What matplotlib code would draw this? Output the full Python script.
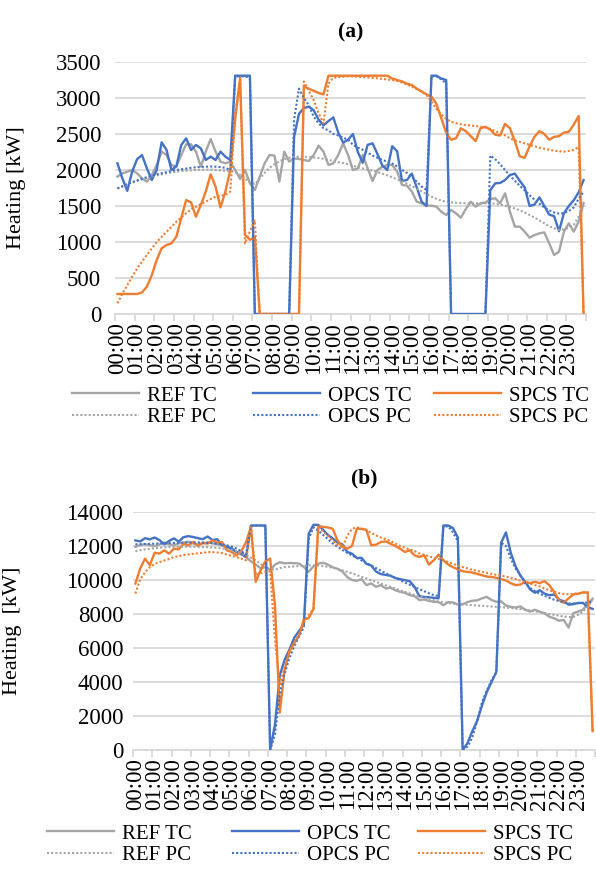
import numpy as np
import matplotlib
matplotlib.use("Agg")
import matplotlib.pyplot as plt

plt.rcParams['font.family'] = ['Liberation Serif', 'DejaVu Serif']

hours = [f"{h:02d}:00" for h in range(24)]

# ---------------- chart (a) : heating [kW], 15-min steps ----------------
a_ref_tc = [1908, 1954, 1977, 2000, 1954, 1884, 1838, 1930,
            2070, 2255, 2208, 2070, 2046, 2208, 2357, 2357,
            2255, 2046, 2255, 2430, 2255, 2116, 2093, 2116,
            2000, 1875, 2000, 1815, 1722, 1908, 2093, 2208,
            2200, 1840, 2255, 2116, 2162, 2153, 2139, 2125,
            2208, 2338, 2255, 2070, 2093, 2208, 2370, 2208,
            2000, 2023, 2208, 2023, 1847, 2000, 2046, 2070,
            2070, 1977, 1792, 1783, 1700, 1560, 1537, 1505,
            1505, 1491, 1421, 1375, 1445, 1398, 1338, 1458,
            1560, 1491, 1537, 1546, 1597, 1607, 1537, 1676,
            1421, 1213, 1213, 1144, 1060, 1097, 1120, 1134,
            982, 820, 866, 1144, 1259, 1144, 1283, 1537]
a_ref_pc = [1740, 1770, 1800, 1830, 1850, 1870, 1890, 1910,
            1925, 1940, 1955, 1965, 1975, 1985, 1990, 1995,
            2000, 2005, 2005, 2005, 2000, 1995, 1990, 1985,
            1970, 1930, 1880, 1830, 1800, 1880, 1960, 2030,
            2080, 2120, 2150, 2170, 2180, 2185, 2185, 2180,
            2175, 2165, 2155, 2140, 2125, 2110, 2095, 2080,
            2060, 2040, 2020, 2005, 1990, 1970, 1950, 1925,
            1900, 1870, 1840, 1810, 1775, 1740, 1700, 1665,
            1630, 1600, 1575, 1560, 1550, 1545, 1540, 1538,
            1537, 1537, 1537, 1537, 1535, 1530, 1520, 1505,
            1490, 1465, 1440, 1410, 1375, 1340, 1300, 1260,
            1220, 1190, 1170, 1175, 1200, 1240, 1350, 1560]
a_opcs_tc = [2093, 1884, 1710, 1977, 2150, 2208, 2023, 1861,
             2000, 2384, 2280, 2000, 2050, 2347, 2440, 2278,
             2347, 2300, 2139, 2185, 2139, 2255, 2185, 2139,
             3310, 3310, 3310, 3310, 0, 0, 0, 0,
             0, 0, 0, 0, 2460, 2780, 2860, 2880,
             2830, 2700, 2620, 2680, 2730, 2520, 2380, 2420,
             2500, 2250, 2100, 2350, 2370, 2220, 2060, 2000,
             2330, 2260, 1850, 1860, 1950, 1760, 1560, 1500,
             3310, 3310, 3270, 3250, 0, 0, 0, 0,
             0, 0, 0, 0, 1720, 1815, 1820, 1860,
             1930, 1950, 1850, 1760, 1500, 1520, 1620, 1500,
             1380, 1360, 1150, 1400, 1500, 1580, 1690, 1860]
a_opcs_pc = [1745, 1775, 1805, 1830, 1855, 1880, 1900, 1920,
             1940, 1955, 1970, 1985, 2000, 2010, 2020, 2030,
             2038, 2043, 2046, 2048, 2046, 2040, 2030, 2000,
             3300, 3300, 3300, 3280, 0, 0, 0, 0,
             0, 0, 0, 0, 2700, 3130, 3000, 2900,
             2740, 2650, 2580, 2550, 2500, 2480, 2450, 2420,
             2350, 2310, 2280, 2240, 2200, 2170, 2140, 2116,
             2090, 2050, 2000, 1960, 1900, 1840, 1770, 1722,
             3300, 3300, 3260, 3200, 0, 0, 0, 0,
             0, 0, 0, 0, 2200, 2150, 2080, 2000,
             1920, 1850, 1780, 1720, 1650, 1590, 1530, 1480,
             1440, 1410, 1395, 1400, 1430, 1480, 1600, 1700]
a_spcs_tc = [278, 278, 278, 278, 278, 300, 380, 540,
             750, 912, 958, 980, 1074, 1329, 1583, 1550,
             1350, 1514, 1700, 1940, 1769, 1480, 1700, 2000,
             2700, 3280, 1100, 1030, 1070, 0, 0, 0,
             0, 0, 0, 0, 0, 0, 3160, 3130,
             3100, 3070, 3050, 3310, 3310, 3310, 3310, 3310,
             3310, 3310, 3310, 3310, 3310, 3310, 3310, 3310,
             3270, 3250, 3230, 3200, 3180, 3130, 3090, 3050,
             3019, 2920, 2720, 2520, 2420, 2440, 2580, 2540,
             2470, 2400, 2580, 2600, 2560, 2490, 2480, 2640,
             2580, 2400, 2190, 2170, 2330, 2460, 2540, 2500,
             2420, 2460, 2470, 2520, 2530, 2630, 2750, 0]
a_spcs_pc = [148, 280, 400, 520, 630, 730, 820, 910,
             1000, 1070, 1140, 1210, 1280, 1340, 1400, 1450,
             1490, 1525, 1560, 1595, 1630, 1640, 1655, 1700,
             2800, 3250, 980, 1150, 1300, 0, 0, 0,
             0, 0, 0, 0, 0, 0, 3230, 3100,
             2972, 2787, 2648, 3200, 3280, 3290, 3295, 3300,
             3300, 3295, 3290, 3285, 3280, 3275, 3265, 3258,
             3250, 3236, 3215, 3190, 3158, 3125, 3090, 3040,
             2950, 2850, 2770, 2710, 2670, 2650, 2635, 2625,
             2618, 2610, 2602, 2590, 2570, 2540, 2510, 2480,
             2440, 2410, 2390, 2370, 2350, 2330, 2310, 2295,
             2280, 2270, 2260, 2255, 2265, 2280, 2320, 0]

# ---------------- chart (b) ----------------
b_ref_tc = [11950, 12050, 12100, 12050, 12000, 12100, 12200, 12100,
            12050, 12150, 12200, 12250, 12150, 12100, 12150, 12200,
            12150, 12100, 12050, 12000, 11800, 11650, 11500, 11350,
            11100, 10900, 10700, 10750, 10600, 10900, 11050, 10980,
            11000, 10990, 10965, 10770, 10480, 10800, 10960, 11020,
            10900, 10750, 10660, 10500, 10180, 10000, 9950, 10050,
            9700, 9800, 9600, 9700, 9500, 9550, 9400, 9300,
            9250, 9110, 9050, 8820, 8850, 8770, 8720, 8700,
            8520, 8700, 8680, 8560, 8580, 8700, 8780, 8800,
            8920, 9010, 8820, 8720, 8740, 8500, 8420, 8380,
            8450, 8250, 8140, 8250, 8140, 8040, 7840, 7750,
            7600, 7650, 7200, 8050, 8150, 8250, 8600, 8900]
b_ref_pc = [11700, 11750, 11800, 11840, 11870, 11900, 11920, 11940,
            11950, 11960, 11960, 11960, 11955, 11950, 11940, 11930,
            11910, 11890, 11860, 11820, 11760, 11680, 11580, 11460,
            11320, 11150, 10950, 10780, 10620, 10600, 10700, 10760,
            10780, 10800, 10820, 10840, 10860, 10860, 10850, 10820,
            10780, 10720, 10650, 10570, 10480, 10390, 10290, 10190,
            10090, 9990, 9890, 9790, 9690, 9590, 9490, 9390,
            9300, 9210, 9120, 9040, 8960, 8880, 8810, 8740,
            8690, 8650, 8610, 8580, 8560, 8540, 8520, 8500,
            8480, 8460, 8440, 8420, 8400, 8380, 8350, 8320,
            8290, 8250, 8210, 8160, 8110, 8060, 8000, 7950,
            7900, 7850, 7820, 7830, 7950, 8150, 8450, 8800]
b_opcs_tc = [12330, 12270, 12460, 12390, 12500, 12350, 12100, 12300,
             12450, 12250, 12520, 12580, 12530, 12460, 12400, 12560,
             12350, 12400, 12050, 11950, 11850, 11650, 11550, 11350,
             13208, 13208, 13208, 13208, 0, 1500, 4400, 5300,
             5900, 6600, 7000, 7400, 12720, 13247, 13240, 12950,
             12650, 12450, 12200, 12100, 11650, 11550, 11300, 11300,
             10950, 10850, 10500, 10350, 10300, 10250, 10120, 10050,
             9990, 9930, 9600, 9050, 9000, 8980, 8950, 8920,
             13208, 13208, 13050, 12500, 0, 400, 1100, 1700,
             2600, 3400, 4000, 4600, 12200, 12800, 11600, 10800,
             10250, 9900, 9450, 9250, 9400, 9200, 9100, 9150,
             8850, 8750, 8550, 8580, 8650, 8650, 8400, 8300]
b_opcs_pc = [12100, 12110, 12120, 12130, 12140, 12150, 12160, 12170,
             12180, 12190, 12200, 12205, 12210, 12210, 12200, 12190,
             12170, 12140, 12100, 12040, 11960, 11850, 11700, 11500,
             13150, 13200, 13200, 13150, 0, 900, 3300, 4500,
             5400, 6100, 6700, 7200, 12400, 13100, 12900, 12650,
             12400, 12150, 11950, 11770, 11600, 11450, 11300, 11150,
             11000, 10850, 10700, 10550, 10400, 10260, 10120, 9990,
             9850, 9720, 9590, 9460, 9340, 9220, 9110, 9050,
             13150, 13150, 12800, 12300, 0, 200, 720, 1700,
             2800, 3500, 4100, 4550, 12200, 12000, 11260, 10670,
             10280, 9800, 9540, 9350, 9190, 9070, 8950, 8840,
             8760, 8680, 8620, 8620, 8640, 8650, 8680, 8720]
b_spcs_tc = [9794, 10672, 11257, 10867, 11608, 11550, 11745, 11550,
             11842, 11803, 12135, 12038, 12233, 11998, 12194, 12135,
             12330, 12194, 12233, 11745, 11647, 11452, 11686, 12233,
             13110, 9890, 10574, 11100, 11257, 8526, 2200, 4700,
             5800, 6300, 6700, 7700, 7750, 8300, 13150, 13130,
             13090, 13013, 12330, 11940, 11842, 11998, 13013, 13013,
             12954, 12038, 12077, 12233, 12272, 12135, 11998, 11842,
             11647, 11745, 11452, 11355, 11452, 10906, 11160, 11491,
             11160, 10906, 10750, 10633, 10516, 10477, 10438, 10360,
             10282, 10204, 10184, 10126, 10048, 9970, 9813, 9696,
             9735, 9891, 9813, 9891, 9813, 9930, 9696, 9306,
             8818, 8662, 8916, 9150, 9189, 9267, 9267, 1112]
b_spcs_pc = [9200, 10050, 10450, 10750, 10950, 11050, 11150, 11230,
             11350, 11400, 11470, 11500, 11540, 11570, 11600, 11640,
             11640, 11620, 11580, 11500, 11420, 11350, 11260, 11160,
             13100, 10300, 10400, 10480, 10500, 6500, 3800, 4900,
             5700, 6300, 6800, 7500, 7900, 8300, 13150, 12850,
             12600, 12300, 12050, 11900, 12600, 13000, 13110, 13000,
             12915, 12780, 12620, 12500, 12400, 12300, 12150, 12000,
             11900, 11800, 11700, 11560, 11480, 11400, 11300, 11230,
             11160, 11050, 10950, 10850, 10760, 10680, 10600, 10540,
             10480, 10420, 10360, 10300, 10250, 10200, 10130, 10060,
             9960, 9880, 9800, 9700, 9620, 9500, 9400, 9300,
             9230, 9180, 9160, 9180, 9230, 9270, 9280, 1112]

GRAY, BLUE, ORANGE = '#A5A5A5', '#4472C4', '#ED7D31'
GRID = '#D9D9D9'
DOT = (0, (1, 1))
FS_TICK = 16.5  # tick labels
FS_LEG = 15     # legend text
FS_LAB = 16     # axis label
FS_TIT = 15.5   # panel title

W, H = 596, 876
fig = plt.figure(figsize=(W / 100, H / 100), dpi=100)


def px_axes(l, t, r, b):
    return fig.add_axes([l / W, 1 - b / H, (r - l) / W, (b - t) / H])


def draw(ax, series, ymax, ystep, title, title_off, ypad, ylabel, ylab_x):
    n = len(series[0][0])
    x = np.arange(n)
    handles = {}
    for vals, col, ls, lab in series:
        ln, = ax.plot(x, vals, color=col, lw=1.7 if ls == '-' else 1.5,
                      linestyle=ls, label=lab, solid_joinstyle='round',
                      zorder=3)
        handles[lab] = ln
    ax.set_xlim(-0.5, n - 0.5)
    ax.set_ylim(0, ymax)
    ax.set_yticks(np.arange(0, ymax + 1, ystep))
    ax.yaxis.grid(True, color=GRID, lw=1.3)
    ax.set_axisbelow(True)
    for s in ['top', 'right', 'left']:
        ax.spines[s].set_visible(False)
    ax.spines['bottom'].set_color(GRID)
    ax.spines['bottom'].set_linewidth(1.3)
    ax.set_xticks(np.arange(0, n, 4))
    ax.set_xticklabels(hours, rotation=90)
    ax.set_xticks(np.arange(-0.5, n, 4), minor=True)
    ax.tick_params(axis='x', which='major', length=0, pad=6, labelsize=FS_TICK)
    ax.tick_params(axis='x', which='minor', length=5, width=1.3, color=GRID)
    ax.tick_params(axis='y', length=0, pad=ypad, labelsize=FS_TICK)
    ax.set_ylabel(ylabel, fontsize=FS_LAB)
    ax.yaxis.set_label_coords(ylab_x, 0.5)
    ax.text(0.5, 1 + title_off, title, transform=ax.transAxes, ha='center',
            va='center', fontsize=FS_TIT, fontweight='bold')
    return handles


def legend(handles, col_x, top):
    # one two-row legend per column, like the equal-width Excel legend
    for name, x0 in zip(['REF', 'OPCS', 'SPCS'], col_x):
        labs = [f'{name} TC', f'{name} PC']
        fig.legend([handles[l] for l in labs], labs, loc='upper left',
                   bbox_to_anchor=(x0 / W, 1 - top / H), frameon=False,
                   fontsize=FS_LEG, handlelength=3.2, handletextpad=0.38,
                   labelspacing=0.1, borderpad=0, borderaxespad=0)


axa = px_axes(115, 62, 586, 314)
ha = draw(axa, [(a_ref_tc, GRAY, '-', 'REF TC'), (a_opcs_tc, BLUE, '-', 'OPCS TC'),
                (a_spcs_tc, ORANGE, '-', 'SPCS TC'), (a_ref_pc, GRAY, DOT, 'REF PC'),
                (a_opcs_pc, BLUE, DOT, 'OPCS PC'), (a_spcs_pc, ORANGE, DOT, 'SPCS PC')],
          3500, 500, '(a)', 30 / 252, 10, 'Heating [kW]', -0.19)
legend(ha, [72, 253, 434], 386)

axb = px_axes(133, 512, 595, 750)
hb = draw(axb, [(b_ref_tc, GRAY, '-', 'REF TC'), (b_opcs_tc, BLUE, '-', 'OPCS TC'),
                (b_spcs_tc, ORANGE, '-', 'SPCS TC'), (b_ref_pc, GRAY, DOT, 'REF PC'),
                (b_opcs_pc, BLUE, DOT, 'OPCS PC'), (b_spcs_pc, ORANGE, DOT, 'SPCS PC')],
          14000, 2000, '(b)', 34 / 238, 7, 'Heating  [kW]', -0.24)
legend(hb, [47, 232, 418], 824)

fig.savefig('out.png', dpi=100)
